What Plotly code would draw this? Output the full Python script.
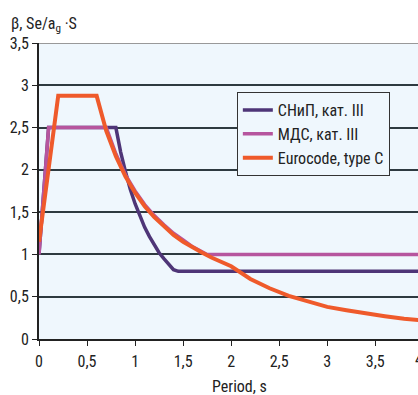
import plotly.graph_objects as go

# Data
snip_T = [0, 0.1, 0.8, 0.85, 0.9, 0.95, 1.0, 1.05, 1.1, 1.15, 1.2, 1.25, 1.3, 1.35, 1.4, 1.45, 4.0]
snip_B = [1.0, 2.5, 2.5, 2.21, 1.98, 1.77, 1.6, 1.45, 1.32, 1.21, 1.11, 1.02, 0.95, 0.88, 0.82, 0.8, 0.8]

mds_T = [0, 0.1, 0.7, 0.8, 0.9, 1.0, 1.1, 1.2, 1.3, 1.4, 1.5, 1.6, 1.75, 4.0]
mds_B = [1.0, 2.5, 2.5, 2.19, 1.94, 1.75, 1.59, 1.46, 1.35, 1.25, 1.17, 1.09, 1.0, 1.0]

ec_T = [0, 0.2, 0.6, 0.7, 0.8, 0.9, 1.0, 1.1, 1.2, 1.3, 1.4, 1.5, 1.6, 1.7, 1.8, 1.9, 2.0,
        2.2, 2.4, 2.6, 2.8, 3.0, 3.2, 3.4, 3.6, 3.8, 4.0]
ec_B = [1.15, 2.875, 2.875, 2.46, 2.16, 1.92, 1.73, 1.57, 1.44, 1.33, 1.23, 1.15, 1.08, 1.02,
        0.96, 0.91, 0.86, 0.71, 0.60, 0.51, 0.44, 0.38, 0.34, 0.30, 0.27, 0.24, 0.22]

x_ticks = [0, 0.5, 1, 1.5, 2, 2.5, 3, 3.5]
x_labels = ["0", "0,5", "1", "1,5", "2", "2,5", "3", "3,5"]
y_ticks = [0, 0.5, 1, 1.5, 2, 2.5, 3, 3.5]
y_labels = ["0", "0,5", "1", "1,5", "2", "2,5", "3", "3,5"]

names = ["СНиП, кат. III", "МДС, кат. III", "Eurocode, type C"]
colors = ["#4e3577", "#b6559e", "#ef5a2b"]
x_title = "Period, s"
y_title = "β, Se/a<sub>g</sub> ·S"

FONT = "Liberation Sans Narrow, Arial Narrow, Roboto Condensed, sans-serif"

fig = go.Figure()
for T, B, n, c, w in [(snip_T, snip_B, names[0], colors[0], 3.5),
                      (mds_T, mds_B, names[1], colors[1], 3.5),
                      (ec_T, ec_B, names[2], colors[2], 4)]:
    fig.add_trace(go.Scatter(x=T, y=B, mode="lines", name=n,
                             line=dict(color=c, width=w), cliponaxis=True))

xmax = (418 - 39.3) / 96.0

fig.update_layout(
    width=418, height=395,
    margin=dict(l=39, r=0, t=43, b=56, autoexpand=False),
    paper_bgcolor="white",
    plot_bgcolor="#eff7fd",
    font=dict(family=FONT, size=14, color="#222"),
    showlegend=True,
    legend=dict(x=0.522, y=0.834, xanchor="left", yanchor="top",
                bgcolor="#eff7fd", bordercolor="#333", borderwidth=1,
                font=dict(family=FONT, size=16, color="#222"),
                itemwidth=30, tracegroupgap=0),
    xaxis=dict(range=[0, xmax], tickvals=x_ticks, ticktext=x_labels,
               showgrid=False, zeroline=False, showline=True, linecolor="#222",
               linewidth=2, ticks="outside", ticklen=5, tickcolor="#222",
               ticklabelstandoff=2,
               tickfont=dict(family=FONT, size=16, color="#222")),
    yaxis=dict(range=[0, 3.5], tickvals=y_ticks, ticktext=y_labels,
               showgrid=True, gridcolor="#2e3a40", gridwidth=1.5,
               zeroline=False, showline=True, linecolor="#222", linewidth=2,
               ticks="outside", ticklen=5, tickcolor="#222",
               tickfont=dict(family=FONT, size=16, color="#222")),
    shapes=[dict(type="line", xref="paper", yref="y", x0=0, x1=1, y0=3.5, y1=3.5,
                 line=dict(color="#999", width=2), layer="below")],
    annotations=[
        dict(text=y_title, xref="paper", yref="paper",
             x=-0.078, y=1.0 + 6 / 296.6, xanchor="left", yanchor="bottom",
             showarrow=False, font=dict(family=FONT, size=16, color="#222")),
        dict(text=x_title, xref="paper", yref="paper",
             x=0.530, y=-0.161, xanchor="center", yanchor="middle",
             showarrow=False, font=dict(family=FONT, size=16, color="#222")),
        dict(text="4", xref="paper", yref="paper", x=1.0, y=0,
             xanchor="left", yanchor="top", xshift=-5, yshift=-9, showarrow=False,
             font=dict(family=FONT, size=16, color="#222")),
    ],
)

fig.write_html("out.html", config={"displayModeBar": False},
               post_script="document.body.style.margin='0';document.body.style.overflow='hidden';")
